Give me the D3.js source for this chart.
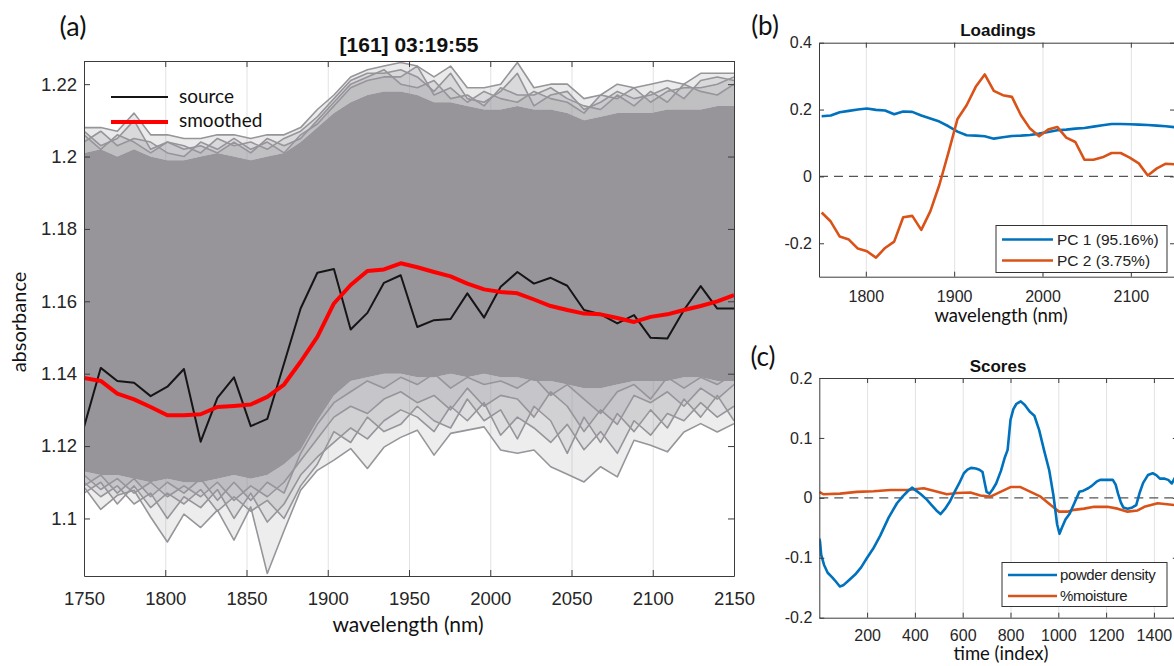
<!DOCTYPE html>
<html>
<head>
<meta charset="utf-8">
<script src="https://cdn.jsdelivr.net/npm/d3@7"></script>
<style>
  body { margin: 0; background: #fff; }
  svg { display: block; }
</style>
</head>
<body>
<script>
// ---------- (a) NIR spectra ----------
const wavelengths = [1750.0,1760.3,1770.5,1780.8,1791.0,1801.3,1811.5,1821.8,1832.1,1842.3,
  1852.6,1862.8,1873.1,1883.3,1893.6,1903.8,1914.1,1924.4,1934.6,1944.9,
  1955.1,1965.4,1975.6,1985.9,1996.2,2006.4,2016.7,2026.9,2037.2,2047.4,
  2057.7,2067.9,2078.2,2088.5,2098.7,2109.0,2119.2,2129.5,2139.7,2150.0];

const sourceSpectrum = [1.1253,1.1416,1.1380,1.1375,1.1338,1.1364,1.1413,1.1212,1.1333,1.1390,
  1.1255,1.1275,1.1428,1.1580,1.1679,1.1689,1.1522,1.1568,1.1651,1.1672,
  1.1529,1.1548,1.1551,1.1622,1.1555,1.1640,1.1681,1.1649,1.1665,1.1643,
  1.1576,1.1564,1.1539,1.1562,1.1499,1.1497,1.1576,1.1642,1.1580,1.1580];

const smoothedSpectrum = [1.1388,1.1380,1.1345,1.1329,1.1308,1.1285,1.1285,1.1288,1.1308,1.1311,
  1.1315,1.1336,1.1370,1.1433,1.1502,1.1594,1.1645,1.1684,1.1688,1.1705,
  1.1694,1.1681,1.1669,1.1649,1.1633,1.1626,1.1622,1.1605,1.1587,1.1576,
  1.1566,1.1564,1.1554,1.1543,1.1557,1.1564,1.1576,1.1587,1.1600,1.1617];

// dense body of all recorded spectra
const bandTop = [1.201,1.202,1.200,1.202,1.200,1.199,1.199,1.200,1.201,1.200,
  1.199,1.200,1.201,1.204,1.208,1.212,1.215,1.217,1.218,1.218,
  1.217,1.215,1.215,1.214,1.213,1.213,1.214,1.213,1.213,1.212,
  1.210,1.211,1.212,1.212,1.212,1.213,1.213,1.213,1.214,1.214];
const bandBottom = [1.113,1.112,1.112,1.111,1.110,1.111,1.110,1.110,1.111,1.112,
  1.111,1.112,1.115,1.119,1.127,1.134,1.138,1.139,1.140,1.140,
  1.139,1.139,1.140,1.139,1.140,1.139,1.139,1.138,1.138,1.137,
  1.136,1.136,1.137,1.138,1.138,1.138,1.139,1.139,1.138,1.138];

// outermost spectra
const edgeTop = [1.208,1.208,1.207,1.212,1.206,1.206,1.205,1.205,1.206,1.206,
  1.205,1.206,1.206,1.208,1.213,1.217,1.222,1.224,1.225,1.226,
  1.225,1.222,1.225,1.219,1.219,1.220,1.226,1.219,1.220,1.220,
  1.216,1.217,1.220,1.219,1.220,1.221,1.220,1.223,1.223,1.223];
const edgeBottom = [1.1087,1.1025,1.1064,1.1078,1.1004,1.0935,1.1012,1.0975,1.1023,1.0940,
  1.1032,1.0848,1.0966,1.1078,1.1133,1.1161,1.1193,1.1138,1.1197,1.1224,
  1.1244,1.1175,1.1235,1.1244,1.1253,1.1189,1.1180,1.1189,1.1143,1.1122,
  1.1101,1.1143,1.1115,1.1216,1.1202,1.1184,1.1239,1.1262,1.1239,1.1262];

// individual spectra in the upper fringe
const upperTraceA = [1.207,1.203,1.205,1.210,1.202,1.204,1.203,1.201,1.205,1.203,
  1.204,1.202,1.205,1.207,1.211,1.216,1.221,1.223,1.223,1.224,
  1.222,1.218,1.223,1.216,1.215,1.218,1.223,1.214,1.217,1.218,
  1.213,1.215,1.218,1.216,1.217,1.219,1.216,1.221,1.222,1.221];
const upperTraceB = [1.204,1.207,1.203,1.205,1.204,1.201,1.200,1.204,1.202,1.205,
  1.202,1.204,1.201,1.206,1.209,1.214,1.219,1.221,1.222,1.222,
  1.225,1.217,1.219,1.215,1.218,1.216,1.215,1.218,1.216,1.215,
  1.212,1.217,1.216,1.219,1.215,1.218,1.219,1.219,1.220,1.222];
const upperTraceC = [1.206,1.202,1.206,1.204,1.201,1.204,1.202,1.203,1.201,1.204,
  1.201,1.205,1.203,1.205,1.210,1.215,1.220,1.222,1.224,1.220,
  1.219,1.221,1.216,1.217,1.214,1.219,1.217,1.217,1.219,1.216,
  1.214,1.213,1.217,1.214,1.218,1.215,1.220,1.218,1.217,1.220];

// individual spectra in the lower fringe
const lowerTraceA = [1.110,1.106,1.109,1.104,1.107,1.100,1.106,1.103,1.108,1.100,
  1.107,1.099,1.104,1.112,1.117,1.121,1.125,1.122,1.127,1.130,
  1.128,1.124,1.131,1.127,1.132,1.123,1.128,1.125,1.121,1.126,
  1.119,1.124,1.118,1.127,1.123,1.129,1.127,1.132,1.128,1.131];
const lowerTraceB = [1.107,1.110,1.104,1.109,1.103,1.107,1.104,1.108,1.102,1.106,
  1.102,1.105,1.100,1.109,1.115,1.124,1.121,1.128,1.124,1.126,
  1.131,1.127,1.125,1.133,1.127,1.130,1.122,1.131,1.127,1.118,
  1.128,1.121,1.129,1.124,1.130,1.125,1.133,1.128,1.134,1.127];
const lowerTraceC = [1.112,1.108,1.111,1.107,1.110,1.106,1.109,1.106,1.110,1.105,
  1.109,1.106,1.110,1.116,1.122,1.128,1.131,1.129,1.133,1.135,
  1.132,1.134,1.130,1.136,1.131,1.134,1.133,1.128,1.135,1.131,
  1.124,1.130,1.126,1.134,1.132,1.135,1.131,1.136,1.133,1.137];
const lowerTraceD = [1.109,1.112,1.107,1.111,1.106,1.110,1.107,1.111,1.105,1.110,
  1.105,1.110,1.107,1.118,1.126,1.132,1.135,1.138,1.136,1.139,
  1.137,1.140,1.136,1.139,1.137,1.138,1.136,1.139,1.134,1.137,
  1.133,1.129,1.135,1.137,1.133,1.139,1.136,1.139,1.137,1.140];

const xTicksA = [1750,1800,1850,1900,1950,2000,2050,2100,2150];
const yTicksA = [1.1,1.12,1.14,1.16,1.18,1.2,1.22];

// ---------- (b) PCA loadings ----------
const pc1Loadings = [0.180,0.182,0.192,0.196,0.200,0.203,0.199,0.197,0.186,0.194,
  0.193,0.182,0.173,0.164,0.150,0.134,0.123,0.122,0.120,0.113,
  0.117,0.121,0.122,0.124,0.128,0.133,0.138,0.140,0.143,0.145,
  0.149,0.153,0.157,0.157,0.156,0.155,0.154,0.152,0.150,0.147];
const pc2Loadings = [-0.108,-0.135,-0.180,-0.189,-0.216,-0.224,-0.243,-0.214,-0.195,-0.122,
  -0.118,-0.160,-0.104,-0.025,0.072,0.172,0.213,0.268,0.305,0.256,
  0.243,0.238,0.183,0.143,0.120,0.140,0.148,0.116,0.103,0.050,
  0.050,0.057,0.070,0.070,0.056,0.039,0.003,0.024,0.038,0.036];
const xTicksB = [1800,1900,2000,2100];
const yTicksB = [-0.2,0,0.2,0.4];

// ---------- (c) PCA scores ----------
const densityIndex = [0,3,8,20,35,55,70,86,100,125,150,175,200,225,255,290,325,350,370,388,
  405,425,450,470,490,507,525,545,565,585,605,620,635,655,670,683,692,700,712,725,
  740,760,775,788,800,812,825,843,860,880,900,920,940,962,980,995,1005,1015,1030,1048,
  1067,1088,1105,1125,1140,1160,1175,1200,1228,1240,1250,1262,1272,1290,1310,1326,1340,1355,1375,1395,
  1410,1425,1445,1460,1475,1490];
const densityScores = [-0.068,-0.073,-0.095,-0.112,-0.125,-0.133,-0.140,-0.148,-0.146,-0.137,
  -0.128,-0.116,-0.100,-0.085,-0.063,-0.033,-0.009,0.003,0.011,0.017,
  0.012,0.006,-0.003,-0.012,-0.021,-0.027,-0.019,-0.007,0.009,0.024,
  0.041,0.047,0.050,0.049,0.047,0.043,0.025,0.010,0.007,0.014,
  0.024,0.045,0.066,0.080,0.130,0.148,0.157,0.161,0.155,0.144,
  0.137,0.113,0.080,0.046,0.003,-0.044,-0.060,-0.050,-0.036,-0.026,
  -0.009,0.010,0.012,0.016,0.020,0.027,0.030,0.030,0.030,0.022,
  0.007,-0.008,-0.016,-0.018,-0.016,-0.012,0.008,0.025,0.038,0.041,
  0.038,0.032,0.032,0.030,0.024,0.035];
const moistureIndex = [0,17,87,157,227,297,367,437,478,534,576,632,674,716,758,800,842,884,926,968,
  1003,1038,1066,1108,1150,1206,1248,1290,1332,1360,1416,1486];
const moistureScores = [0.010,0.006,0.007,0.010,0.011,0.013,0.013,0.016,0.012,0.006,
  0.008,0.009,0.004,0.002,0.010,0.018,0.018,0.010,0.002,-0.012,
  -0.023,-0.023,-0.020,-0.018,-0.015,-0.015,-0.018,-0.023,-0.021,-0.015,
  -0.009,-0.012];
const xTicksC = [200,400,600,800,1000,1200,1400];
const yTicksC = [-0.2,-0.1,0,0.1,0.2];

// ---------- drawing ----------
const W = 1174, H = 666;
const TICK_FONT = "'Liberation Sans', Arial, sans-serif";
const NOTE_FONT = "Lato, 'Open Sans', sans-serif";
const AXIS_COLOR = "#3c3c3c";
const GRID_COLOR = "#e2e2e2";
const BLUE = "#0072BD", ORANGE = "#D95319";
const SPECTRA = "#97949a";

const svg = d3.select("body").append("svg").attr("width", W).attr("height", H);

const fmt = d => String(+d.toFixed(3));

function grid(g, x, y, ticks) {
  const [yb, yt] = y.range();
  g.append("g").attr("transform", `translate(0,${yb})`)
    .call(d3.axisBottom(x).tickValues(ticks).tickSize(-(yb - yt)).tickFormat(""))
    .call(s => s.select(".domain").remove())
    .call(s => s.selectAll("line").attr("stroke", GRID_COLOR).attr("stroke-width", 1));
}

function frame(g, x, y, xt, yt, o) {
  const [xl, xr] = x.range();
  const [yb, yt0] = y.range();
  const style = s => s.attr("color", AXIS_COLOR).attr("font-family", TICK_FONT)
    .attr("font-size", o.fs).call(t => t.selectAll("text").attr("fill", "#262626"));
  g.append("g").attr("transform", `translate(0,${yb})`)
    .call(d3.axisBottom(x).tickValues(xt).tickSizeInner(-o.tick).tickSizeOuter(0)
      .tickPadding(o.xpad).tickFormat(fmt)).call(style);
  g.append("g").attr("transform", `translate(0,${yt0})`)
    .call(d3.axisTop(x).tickValues(xt).tickSizeInner(-o.tick).tickSizeOuter(0).tickFormat(""))
    .call(style);
  g.append("g").attr("transform", `translate(${xl},0)`)
    .call(d3.axisLeft(y).tickValues(yt).tickSizeInner(-o.tick).tickSizeOuter(0)
      .tickPadding(o.ypad).tickFormat(fmt)).call(style);
  g.append("g").attr("transform", `translate(${xr},0)`)
    .call(d3.axisRight(y).tickValues(yt).tickSizeInner(-o.tick).tickSizeOuter(0).tickFormat(""))
    .call(style);
}

function text(x, y, s, size, opts = {}) {
  const t = svg.append("text").attr("x", x).attr("y", y).text(s)
    .attr("font-size", size).attr("font-family", opts.family || NOTE_FONT)
    .attr("text-anchor", opts.anchor || "middle").attr("fill", opts.fill || "#111");
  if (opts.bold) t.attr("font-weight", "bold");
  return t;
}

// ----- panel (a) -----
const xA = d3.scaleLinear().domain([1750, 2150]).range([84, 734]);
const yA = d3.scaleLinear().domain([1.0841, 1.2264]).range([576, 61]);
const gA = svg.append("g");
grid(gA, xA, yA, xTicksA.slice(1, -1));

svg.append("clipPath").attr("id", "clipA").append("rect")
  .attr("x", 84).attr("y", 61).attr("width", 650).attr("height", 515);
const plotA = gA.append("g").attr("clip-path", "url(#clipA)");

const lineA = d3.line().x((d, i) => xA(wavelengths[i])).y(d => yA(d));
const areaA = d3.area().x((d, i) => xA(wavelengths[i])).y0(d => yA(d[0])).y1(d => yA(d[1]));

const upperFringe = [edgeTop, upperTraceA, upperTraceB, upperTraceC];
const lowerFringe = [edgeBottom, lowerTraceA, lowerTraceB, lowerTraceC, lowerTraceD];

// stacked translucent fills: overlap grows denser toward the body of the spectra
upperFringe.forEach(tr => {
  plotA.append("path").datum(tr.map((v, i) => [bandTop[i], v]))
    .attr("d", areaA).attr("fill", SPECTRA).attr("fill-opacity", 0.2);
});
lowerFringe.forEach(tr => {
  plotA.append("path").datum(tr.map((v, i) => [v, bandBottom[i]]))
    .attr("d", areaA).attr("fill", SPECTRA).attr("fill-opacity", 0.17);
});
plotA.append("path").datum(bandTop.map((t, i) => [bandBottom[i], t]))
  .attr("d", areaA).attr("fill", SPECTRA);

upperFringe.concat(lowerFringe).forEach(tr => {
  plotA.append("path").datum(tr).attr("d", lineA).attr("fill", "none")
    .attr("stroke", SPECTRA).attr("stroke-width", 1.6).attr("stroke-linejoin", "round");
});

plotA.append("path").datum(sourceSpectrum).attr("d", lineA).attr("fill", "none")
  .attr("stroke", "#151515").attr("stroke-width", 2).attr("stroke-linejoin", "round");
plotA.append("path").datum(smoothedSpectrum).attr("d", lineA).attr("fill", "none")
  .attr("stroke", "#ff0000").attr("stroke-width", 4).attr("stroke-linejoin", "round");

frame(gA, xA, yA, xTicksA, yTicksA, { fs: 18.5, tick: 6, xpad: 16, ypad: 7 });

// legend (a)
gA.append("line").attr("x1", 111).attr("x2", 168).attr("y1", 97).attr("y2", 97)
  .attr("stroke", "#151515").attr("stroke-width", 2);
gA.append("line").attr("x1", 111).attr("x2", 168).attr("y1", 122).attr("y2", 122)
  .attr("stroke", "#ff0000").attr("stroke-width", 4);
text(179, 103, "source", 19, { anchor: "start" });
text(179, 127, "smoothed", 19, { anchor: "start" });

text(409, 52, "[161] 03:19:55", 21, { family: TICK_FONT, bold: true });
text(408, 632, "wavelength (nm)", 21);
svg.append("text").attr("transform", "translate(26,322) rotate(-90)")
  .attr("text-anchor", "middle").attr("font-family", NOTE_FONT).attr("font-size", 20)
  .attr("fill", "#111").text("absorbance");
text(73, 36, "(a)", 27);

// ----- panel (b) -----
const xB = d3.scaleLinear().domain([1747, 2150]).range([819, 1175]);
const yB = d3.scaleLinear().domain([-0.3, 0.4]).range([276.7, 42.7]);
const gB = svg.append("g");
grid(gB, xB, yB, xTicksB);
svg.append("clipPath").attr("id", "clipB").append("rect")
  .attr("x", 819).attr("y", 42.7).attr("width", 356).attr("height", 234);
const plotB = gB.append("g").attr("clip-path", "url(#clipB)");
plotB.append("line").attr("x1", xB(1747)).attr("x2", xB(2150))
  .attr("y1", yB(0)).attr("y2", yB(0))
  .attr("stroke", "#555").attr("stroke-width", 1.4).attr("stroke-dasharray", "9,6");
const lineB = d3.line().x((d, i) => xB(wavelengths[i])).y(d => yB(d));
plotB.append("path").datum(pc1Loadings).attr("d", lineB).attr("fill", "none")
  .attr("stroke", BLUE).attr("stroke-width", 2.6).attr("stroke-linejoin", "round");
plotB.append("path").datum(pc2Loadings).attr("d", lineB).attr("fill", "none")
  .attr("stroke", ORANGE).attr("stroke-width", 2.6).attr("stroke-linejoin", "round");
frame(gB, xB, yB, xTicksB, yTicksB, { fs: 16, tick: 5, xpad: 14, ypad: 7 });

gB.append("rect").attr("x", 996).attr("y", 225.5).attr("width", 171).attr("height", 47)
  .attr("fill", "#fff").attr("stroke", "#333").attr("stroke-width", 1);
gB.append("line").attr("x1", 1002).attr("x2", 1053).attr("y1", 239.5).attr("y2", 239.5)
  .attr("stroke", BLUE).attr("stroke-width", 2.6);
gB.append("line").attr("x1", 1002).attr("x2", 1053).attr("y1", 260.5).attr("y2", 260.5)
  .attr("stroke", ORANGE).attr("stroke-width", 2.6);
text(1057, 245, "PC 1 (95.16%)", 15.5, { family: TICK_FONT, anchor: "start", fill: "#222" });
text(1057, 266, "PC 2 (3.75%)", 15.5, { family: TICK_FONT, anchor: "start", fill: "#222" });

text(998, 36, "Loadings", 17, { family: TICK_FONT, bold: true });
text(1001, 322, "wavelength (nm)", 18.5);
text(765, 35, "(b)", 26);

// ----- panel (c) -----
const xC = d3.scaleLinear().domain([0, 1500]).range([819.3, 1177.8]);
const yC = d3.scaleLinear().domain([-0.2, 0.2]).range([617.7, 378]);
const gC = svg.append("g");
grid(gC, xC, yC, xTicksC);
svg.append("clipPath").attr("id", "clipC").append("rect")
  .attr("x", 819.3).attr("y", 378).attr("width", 360).attr("height", 240);
const plotC = gC.append("g").attr("clip-path", "url(#clipC)");
plotC.append("line").attr("x1", xC(0)).attr("x2", xC(1500))
  .attr("y1", yC(0)).attr("y2", yC(0))
  .attr("stroke", "#555").attr("stroke-width", 1.4).attr("stroke-dasharray", "9,6");
const lineDensity = d3.line().x((d, i) => xC(densityIndex[i])).y(d => yC(d));
const lineMoisture = d3.line().x((d, i) => xC(moistureIndex[i])).y(d => yC(d));
plotC.append("path").datum(moistureScores).attr("d", lineMoisture).attr("fill", "none")
  .attr("stroke", ORANGE).attr("stroke-width", 2.6).attr("stroke-linejoin", "round");
plotC.append("path").datum(densityScores).attr("d", lineDensity).attr("fill", "none")
  .attr("stroke", BLUE).attr("stroke-width", 2.6).attr("stroke-linejoin", "round");
frame(gC, xC, yC, xTicksC, yTicksC, { fs: 16, tick: 5, xpad: 12, ypad: 7 });

gC.append("rect").attr("x", 1002).attr("y", 562.5).attr("width", 165).attr("height", 44)
  .attr("fill", "#fff").attr("stroke", "#333").attr("stroke-width", 1);
gC.append("line").attr("x1", 1008).attr("x2", 1057).attr("y1", 575).attr("y2", 575)
  .attr("stroke", BLUE).attr("stroke-width", 2.6);
gC.append("line").attr("x1", 1008).attr("x2", 1057).attr("y1", 596).attr("y2", 596)
  .attr("stroke", ORANGE).attr("stroke-width", 2.6);
text(1060, 580, "powder density", 15, { family: TICK_FONT, anchor: "start", fill: "#222" })
  .attr("letter-spacing", -0.4);
text(1060, 601, "%moisture", 15, { family: TICK_FONT, anchor: "start", fill: "#222" })
  .attr("letter-spacing", -0.4);

text(998, 372, "Scores", 17, { family: TICK_FONT, bold: true });
text(1001, 660, "time (index)", 18.5);
text(763, 366, "(c)", 26);
</script>
</body>
</html>
